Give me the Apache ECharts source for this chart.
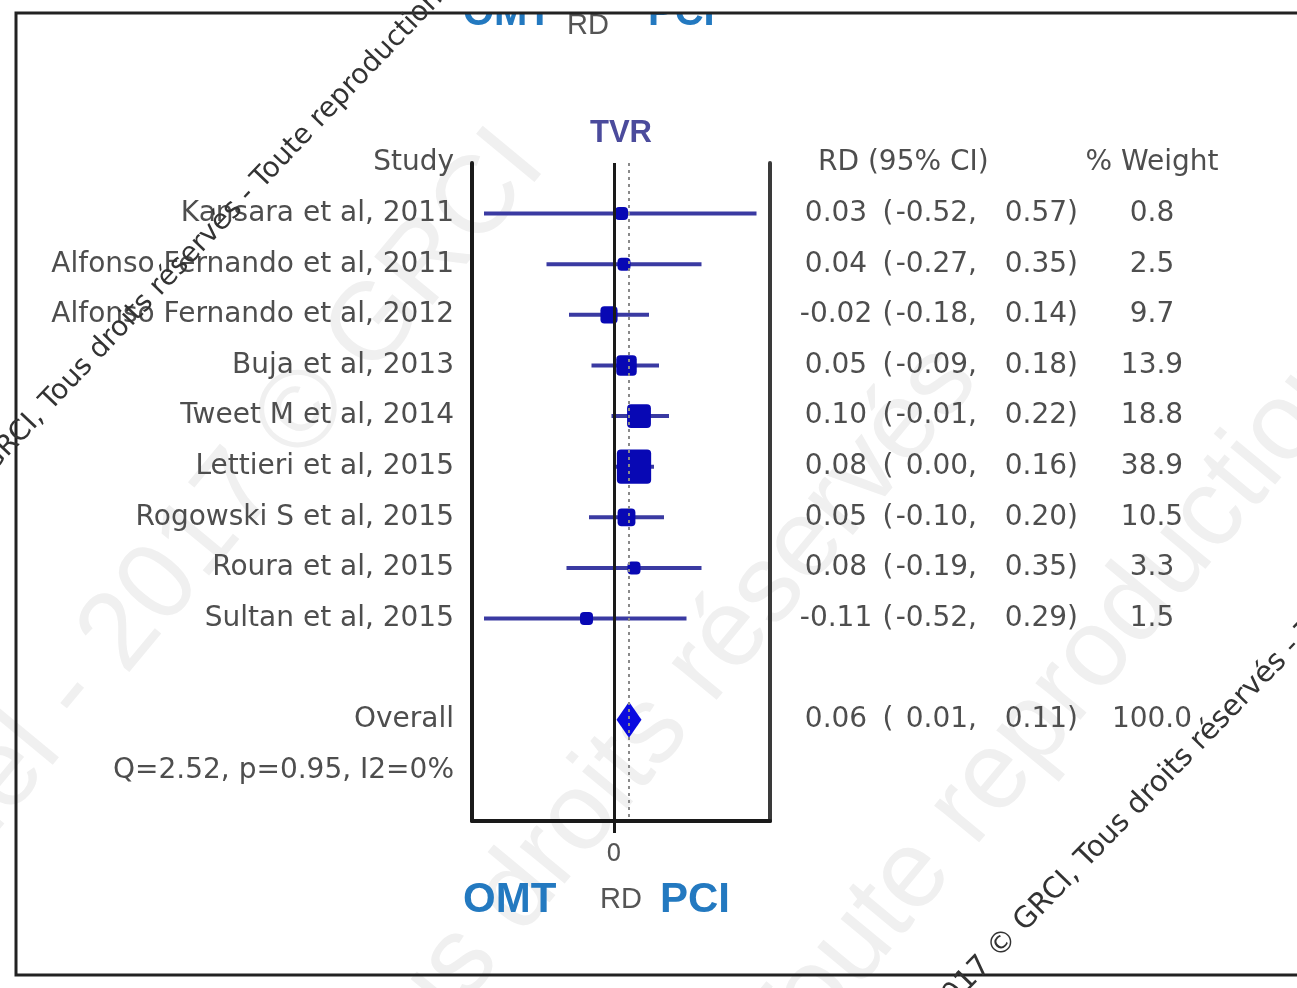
<!DOCTYPE html>
<html>
<head>
<meta charset="utf-8">
<title>TVR forest plot</title>
<script src="https://cdn.jsdelivr.net/npm/echarts@6.0.0/dist/echarts.min.js"></script>
<style>
  html, body { margin: 0; padding: 0; background: #fff; }
  #chart { width: 1297px; height: 988px; }
</style>
</head>
<body>
<div id="chart"></div>
<script>
// study data (risk difference, 95% CI, % weight)
const studies = [
  'Kansara et al, 2011',
  'Alfonso Fernando et al, 2011',
  'Alfonso Fernando et al, 2012',
  'Buja et al, 2013',
  'Tweet M et al, 2014',
  'Lettieri et al, 2015',
  'Rogowski S et al, 2015',
  'Roura et al, 2015',
  'Sultan et al, 2015'
]
const rd = [0.03, 0.04, -0.02, 0.05, 0.10, 0.08, 0.05, 0.08, -0.11]
const ciLow = [-0.52, -0.27, -0.18, -0.09, -0.01, 0.00, -0.10, -0.19, -0.52]
const ciHigh = [0.57, 0.35, 0.14, 0.18, 0.22, 0.16, 0.20, 0.35, 0.29]
const weight = [0.8, 2.5, 9.7, 13.9, 18.8, 38.9, 10.5, 3.3, 1.5]

const overall = { rd: 0.06, low: 0.01, high: 0.11, weight: 100.0 }
const heterogeneity = 'Q=2.52, p=0.95, I2=0%'
const xTicks = [0]

const OVERALL_ROW = studies.length + 1
const Q_ROW = OVERALL_ROW + 1

const font = "'DejaVu Sans', sans-serif"
const textGray = '#4e4e4e'
const blueTxt = '#2379c0'
const watermark = '2017 © GRCI, Tous droits réservés - Toute reproduction interdite'

// row -> text lookups for the three label columns
const leftLabels = { '-1': 'Study', [OVERALL_ROW]: 'Overall', [Q_ROW]: heterogeneity }
const ciLabels = { '-1': '{hd|RD (95% CI)}' }
const weightLabels = { '-1': '% Weight' }

const ciText = (e, l, h) =>
  `{e|${e.toFixed(2)}}{o|(}{l|${l.toFixed(2)},}{h|${h.toFixed(2)})}`

studies.forEach((name, i) => {
  leftLabels[i] = name
  ciLabels[i] = ciText(rd[i], ciLow[i], ciHigh[i])
  weightLabels[i] = weight[i].toFixed(1)
})
ciLabels[OVERALL_ROW] = ciText(overall.rd, overall.low, overall.high)
weightLabels[OVERALL_ROW] = overall.weight.toFixed(1)

const rows = studies.map((s, i) => [i, rd[i], ciLow[i], ciHigh[i], weight[i]])

const chart = echarts.init(document.getElementById('chart'))

const baseY = {
  type: 'value',
  min: -1,
  max: 12,
  interval: 1,
  inverse: true,
  splitLine: { show: false },
  axisTick: { show: false }
}

const numStyle = { fontFamily: font, fontSize: 28, color: textGray }

// big pale background watermark
const paleText = (text, x, y) => ({
  type: 'text', x, y, rotation: 0.88, z: -10, silent: true,
  style: { text, font: "110px 'Liberation Sans', sans-serif", fill: '#f0f0f0', textVerticalAlign: 'middle' }
})

const option = {
  backgroundColor: '#fff',
  animation: false,
  grid: { left: 472, right: 527, top: 163, bottom: 167 },
  xAxis: [
    {
      type: 'value',
      min: -0.568,
      max: 0.624,
      position: 'bottom',
      splitLine: { show: false },
      axisLine: { show: true, onZero: false, lineStyle: { color: '#1a1a1a', width: 4 } },
      axisTick: { show: true, customValues: xTicks, length: 12, lineStyle: { color: '#1a1a1a', width: 3 } },
      axisLabel: { customValues: xTicks, margin: 22, fontFamily: font, fontSize: 24, color: '#555' }
    },
    {
      type: 'value',
      min: -0.568,
      max: 0.624,
      position: 'top',
      splitLine: { show: false },
      axisLine: { show: false, onZero: false },
      axisTick: { show: false },
      axisLabel: { show: false },
      name: 'TVR',
      nameLocation: 'middle',
      nameGap: 14,
      nameTextStyle: { fontFamily: "'Liberation Sans', sans-serif", fontWeight: 'bold', fontSize: 31, color: '#4b4b9c' }
    }
  ],
  yAxis: [
    Object.assign({}, baseY, {
      position: 'left',
      axisLine: { show: true, onZero: false, lineStyle: { color: '#1a1a1a', width: 4 } },
      axisLabel: {
        margin: 18,
        showMinLabel: true,
        fontFamily: font,
        fontSize: 28,
        color: textGray,
        formatter: v => leftLabels[v] || ''
      }
    }),
    Object.assign({}, baseY, {
      position: 'right',
      axisLine: { show: true, onZero: false, lineStyle: { color: '#3a3a3a', width: 4 } },
      axisLabel: { show: false }
    }),
    Object.assign({}, baseY, {
      position: 'right',
      offset: 25,
      axisLine: { show: false, onZero: false },
      axisLabel: {
        margin: 0,
        align: 'left',
        showMinLabel: true,
        formatter: v => ciLabels[v] || '',
        rich: {
          hd: Object.assign({ padding: [0, 0, 0, 23] }, numStyle),
          e: Object.assign({ width: 82, align: 'right' }, numStyle),
          o: Object.assign({ width: 22, align: 'center' }, numStyle),
          l: Object.assign({ width: 78, align: 'right' }, numStyle),
          h: Object.assign({ width: 101, align: 'right' }, numStyle)
        }
      }
    }),
    Object.assign({}, baseY, {
      position: 'right',
      offset: 382,
      axisLine: { show: false, onZero: false },
      axisLabel: {
        margin: 0,
        align: 'center',
        showMinLabel: true,
        fontFamily: font,
        fontSize: 28,
        color: textGray,
        formatter: v => weightLabels[v] || ''
      }
    })
  ],
  series: [
    {
      name: 'studies',
      type: 'custom',
      xAxisIndex: 0,
      yAxisIndex: 0,
      encode: { x: [1, 2, 3], y: 0 },
      data: rows,
      renderItem: (params, api) => {
        const y = api.value(0)
        const pL = api.coord([api.value(2), y])
        const pH = api.coord([api.value(3), y])
        const pE = api.coord([api.value(1), y])
        const s = Math.max(13, 5.5 * Math.sqrt(api.value(4)))
        return {
          type: 'group',
          children: [
            {
              type: 'line',
              shape: { x1: pL[0], y1: pL[1], x2: pH[0], y2: pH[1] },
              style: { stroke: '#3a3aa2', lineWidth: 4 }
            },
            {
              type: 'rect',
              shape: { x: pE[0] - s / 2, y: pE[1] - s / 2, width: s, height: s, r: 4 },
              style: { fill: '#0808b4' }
            }
          ]
        }
      },
      markLine: {
        silent: true,
        symbol: 'none',
        label: { show: false },
        data: [
          { xAxis: 0, lineStyle: { color: '#1a1a1a', width: 3, type: 'solid' } },
          { xAxis: overall.rd, lineStyle: { color: '#8a8a8a', width: 2, type: [3, 4] } }
        ]
      }
    },
    {
      name: 'overall',
      type: 'custom',
      xAxisIndex: 0,
      yAxisIndex: 0,
      encode: { x: [1, 2, 3], y: 0 },
      data: [[OVERALL_ROW, overall.rd, overall.low, overall.high]],
      renderItem: (params, api) => {
        const y = api.value(0)
        const pL = api.coord([api.value(2), y])
        const pH = api.coord([api.value(3), y])
        const pE = api.coord([api.value(1), y])
        return {
          type: 'polygon',
          shape: { points: [[pL[0], pL[1]], [pE[0], pE[1] - 18], [pH[0], pH[1]], [pE[0], pE[1] + 18]] },
          style: { fill: '#0a0ae0' }
        }
      }
    }
  ],
  graphic: [
    paleText('Confidentiel - 2017 © GRCI', -330, 1180),
    paleText('Tous droits réservés', 330, 1120),
    paleText('Toute reproduction interdite', 760, 1060),
    // clipped header left over from the panel above
    { type: 'text', x: 463, y: 34, z: 1, style: { text: 'OMT', font: "bold 40px 'Liberation Sans', sans-serif", fill: blueTxt, textVerticalAlign: 'bottom' } },
    { type: 'text', x: 567, y: 40, z: 1, style: { text: 'RD', font: "29px 'Liberation Sans', sans-serif", fill: '#555', textVerticalAlign: 'bottom' } },
    { type: 'text', x: 648, y: 34, z: 1, style: { text: 'PCI', font: "bold 40px 'Liberation Sans', sans-serif", fill: blueTxt, textVerticalAlign: 'bottom' } },
    { type: 'rect', z: 2, shape: { x: 0, y: 0, width: 1297, height: 12 }, style: { fill: '#fff' } },
    // outer frame
    { type: 'rect', z: 3, shape: { x: 16, y: 13, width: 1300, height: 962 }, style: { fill: 'none', stroke: '#222', lineWidth: 3 } },
    // bottom axis caption
    { type: 'text', x: 463, y: 921, style: { text: 'OMT', font: "bold 42px 'Liberation Sans', sans-serif", fill: blueTxt, textVerticalAlign: 'bottom' } },
    { type: 'text', x: 600, y: 914, style: { text: 'RD', font: "29px 'Liberation Sans', sans-serif", fill: '#555', textVerticalAlign: 'bottom' } },
    { type: 'text', x: 660, y: 921, style: { text: 'PCI', font: "bold 42px 'Liberation Sans', sans-serif", fill: blueTxt, textVerticalAlign: 'bottom' } },
    // copyright watermarks
    { type: 'text', x: -94, y: 553, rotation: 0.81, z: 5, style: { text: watermark, font: "28px 'DejaVu Sans', sans-serif", fill: '#333', textVerticalAlign: 'middle' } },
    { type: 'text', x: 935, y: 1014, rotation: 0.8, z: 5, style: { text: watermark, font: "29px 'DejaVu Sans', sans-serif", fill: '#333', textVerticalAlign: 'middle' } }
  ]
}

chart.setOption(option)
</script>
</body>
</html>
